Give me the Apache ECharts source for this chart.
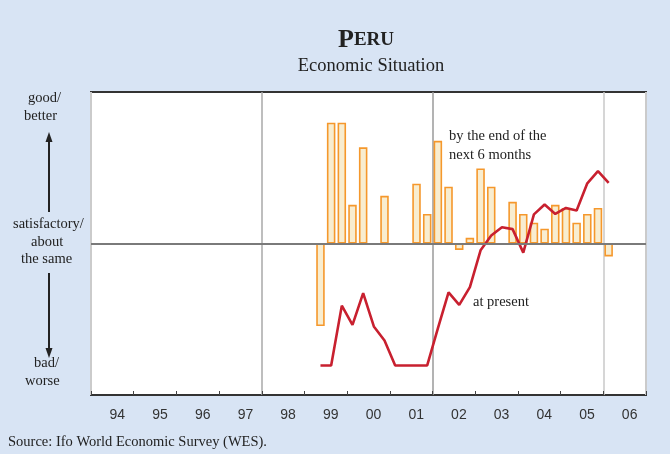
<!DOCTYPE html>
<html>
<head>
<meta charset="utf-8">
<script src="https://cdn.jsdelivr.net/npm/echarts@6/dist/echarts.min.js"></script>
<style>
  html, body { margin: 0; padding: 0; background: #d8e4f4; }
  #chart { width: 670px; height: 454px; }
</style>
</head>
<body>
<div id="chart"></div>
<script>
// Year tick labels along the bottom
const years = ['94', '95', '96', '97', '98', '99', '00', '01', '02', '03', '04', '05', '06'];

// Survey quarters
const quarters = [
  '1999Q2', '1999Q3', '1999Q4',
  '2000Q1', '2000Q2', '2000Q3', '2000Q4',
  '2001Q1', '2001Q2', '2001Q3', '2001Q4',
  '2002Q1', '2002Q2', '2002Q3', '2002Q4',
  '2003Q1', '2003Q2', '2003Q3', '2003Q4',
  '2004Q1', '2004Q2', '2004Q3', '2004Q4',
  '2005Q1', '2005Q2', '2005Q3', '2005Q4',
  '2006Q1'
];

// Expected economic situation by the end of the next 6 months (deviation from "satisfactory")
const expectations = [
  -2.18, 3.19, 3.19,
  1.02, 2.54, null, 1.26,
  null, null, 1.58, 0.78,
  2.71, 1.50, -0.17, 0.15,
  1.98, 1.50, null, 1.10,
  0.78, 0.55, 0.39, 1.02,
  0.94, 0.55, 0.78, 0.94,
  -0.34
];

// Present economic situation (deviation from "satisfactory")
const present = [
  -3.22, -3.22, -1.64,
  -2.15, -1.31, -2.19, -2.56,
  -3.22, -3.22, -3.22, -3.22,
  -2.24, -1.29, -1.62, -1.15,
  -0.18, 0.21, 0.43, 0.38,
  -0.24, 0.77, 1.03, 0.78,
  0.94, 0.87, 1.59, 1.91,
  1.60
];

// Position of a quarter on the continuous time axis: middle of the quarter
function quarterPos(q) {
  const y = parseInt(q.slice(0, 4), 10);
  const n = parseInt(q.slice(5), 10);
  return y + (n - 0.5) / 4;
}

const barData = [];
quarters.forEach((q, i) => {
  if (expectations[i] !== null) barData.push([quarterPos(q), expectations[i]]);
});
const lineData = quarters.map((q, i) => [quarterPos(q), present[i]]);

const serif = '"Liberation Serif", "DejaVu Serif", serif';
const sans = '"Liberation Sans", Arial, sans-serif';
const splitColors = ['#ffffff', '#a8a8a8', '#9a9a9a', '#c8c8c8'];
const labelFont = { fontFamily: serif, fontSize: 14.5, fill: '#222' };

const chart = echarts.init(document.getElementById('chart'), null, { renderer: 'canvas' });

chart.setOption({
  backgroundColor: '#d8e4f4',
  animation: false,
  title: {
    left: 366,
    top: 22,
    textAlign: 'center',
    text: '{p|P}{r|ERU}',
    subtext: 'Economic Situation',
    itemGap: 4,
    textStyle: {
      rich: {
        p: { fontFamily: serif, fontSize: 26, color: '#222' },
        r: { fontFamily: serif, fontSize: 19, color: '#222', padding: [0, 10, 0, 0] }
      }
    },
    subtextStyle: { fontFamily: serif, fontSize: 18.5, color: '#222' }
  },
  grid: {
    left: 91, top: 92, right: 24, bottom: 59,
    show: true,
    backgroundColor: '#ffffff',
    borderColor: '#333333',
    borderWidth: 2
  },
  xAxis: [
    {
      type: 'category',
      data: years,
      boundaryGap: true,
      position: 'bottom',
      axisLine: { show: false, onZero: false },
      axisTick: { show: true, inside: true, length: 4, interval: 0, lineStyle: { color: '#444', width: 1 } },
      axisLabel: {
        interval: 0,
        margin: 13,
        fontFamily: sans,
        fontSize: 14,
        color: '#333',
        padding: [0, 0, 0, 10]
      },
      splitLine: {
        show: true,
        interval: (i) => i % 4 === 0,
        lineStyle: { color: splitColors, width: 1.5 }
      }
    },
    {
      type: 'value',
      min: 1994,
      max: 2007,
      show: false,
      axisLine: { onZero: false }
    }
  ],
  yAxis: {
    type: 'value',
    min: -4,
    max: 4,
    show: false,
    splitLine: { show: false }
  },
  series: [
    {
      name: 'by the end of the next 6 months',
      type: 'bar',
      xAxisIndex: 1,
      data: barData,
      barWidth: 8.5,
      itemStyle: {
        color: '#f8edd0',
        borderColor: '#f5982c',
        borderWidth: 1.6
      },
      markLine: {
        silent: true,
        symbol: 'none',
        label: { show: false },
        lineStyle: { color: '#7a7a7a', width: 2, type: 'solid' },
        data: [{ yAxis: 0 }]
      },
      z: 2
    },
    {
      name: 'at present',
      type: 'line',
      xAxisIndex: 1,
      data: lineData,
      symbol: 'none',
      lineStyle: { color: '#c8202f', width: 2.6 },
      z: 4
    }
  ],
  graphic: [
    // left scale descriptions
    { type: 'text', left: 28, top: 91, style: Object.assign({ text: 'good/' }, labelFont) },
    { type: 'text', left: 24, top: 109, style: Object.assign({ text: 'better' }, labelFont) },
    { type: 'text', left: 13, top: 217, style: Object.assign({ text: 'satisfactory/' }, labelFont) },
    { type: 'text', left: 31, top: 235, style: Object.assign({ text: 'about' }, labelFont) },
    { type: 'text', left: 21, top: 252, style: Object.assign({ text: 'the same' }, labelFont) },
    { type: 'text', left: 34, top: 356, style: Object.assign({ text: 'bad/' }, labelFont) },
    { type: 'text', left: 25, top: 374, style: Object.assign({ text: 'worse' }, labelFont) },
    // arrows
    { type: 'line', shape: { x1: 49, y1: 212, x2: 49, y2: 140 }, style: { stroke: '#222', lineWidth: 2 } },
    { type: 'polygon', shape: { points: [[49, 132], [45.5, 142], [52.5, 142]] }, style: { fill: '#222' } },
    { type: 'line', shape: { x1: 49, y1: 273, x2: 49, y2: 350 }, style: { stroke: '#222', lineWidth: 2 } },
    { type: 'polygon', shape: { points: [[49, 358], [45.5, 348], [52.5, 348]] }, style: { fill: '#222' } },
    // series annotations
    { type: 'text', left: 449, top: 127, z: 10, style: { text: 'by the end of the\nnext 6 months', fontFamily: serif, fontSize: 14.5, lineHeight: 19, fill: '#222' } },
    { type: 'text', left: 473, top: 295, z: 10, style: { text: 'at present', fontFamily: serif, fontSize: 14.5, fill: '#222' } },
    // source line
    { type: 'text', left: 8, top: 435, style: { text: 'Source: Ifo World Economic Survey (WES).', fontFamily: serif, fontSize: 14.5, fill: '#222' } }
  ]
});
</script>
</body>
</html>
